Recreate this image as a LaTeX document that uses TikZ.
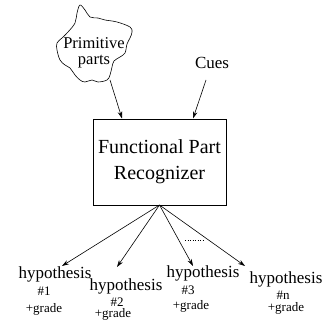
\documentclass[tikz,border=0pt]{standalone}
\usepackage{fontspec}
\setmainfont{Liberation Serif}
\usetikzlibrary{arrows.meta}
\tikzset{
  conn/.style={line width=0.6pt,-{Stealth[length=7pt,width=4.5pt]}},
  big/.style={font=\fontsize{20}{24}\selectfont,align=center,inner sep=0pt},
  mid/.style={font=\fontsize{17}{20}\selectfont,inner sep=0pt,anchor=base},
  sml/.style={font=\fontsize{13}{15}\selectfont,inner sep=0pt,anchor=base},
}
\begin{document}
\begin{tikzpicture}[x=1pt,y=-1pt]
\useasboundingbox (0,0) rectangle (323,320);
% blob
\draw[line width=0.6pt] plot[smooth cycle,tension=0.6] coordinates{
 (80,5) (85,10) (90,17) (98,18) (105,20) (117,22) (130,27) (132,32) (130,38)
 (127,44) (125,53) (120,57) (114,61) (112,67) (110,75) (107,80) (98,82)
 (92,80) (85,82) (80,80) (75,75) (70,68) (65,65) (60,60) (57,50) (57,43)
 (62,38) (68,32) (75,23) (77,13)};
\node[align=center,inner sep=0pt,font=\fontsize{16.5}{15.5}\selectfont] (prim) at (94,53) {Primitive\\parts};
\node[mid] (cues) at (212,69) {Cues};
\draw[line width=0.6pt] (93,119) rectangle (226,205);
\node[big] (fpr) at (159.5,162) {Functional Part\\[2pt]Recognizer};
\coordinate (fan) at (159.5,205);
\coordinate (ps) at (110,80);
\coordinate (cs) at (206,80);
\coordinate (pt) at (122,118.5);
\coordinate (ct) at (193,118.5);
\draw[conn] (ps) -- (pt);
\draw[conn] (cs) -- (ct);
% hypotheses
\coordinate (t1) at (62,266);
\coordinate (t2) at (117,267);
\coordinate (t3) at (193,266);
\coordinate (t4) at (245,266);
\draw[conn] (fan) -- (t1);
\draw[conn] (fan) -- (t2);
\draw[conn] (fan) -- (t3);
\draw[conn] (fan) -- (t4);
\coordinate (d1) at (185,240);
\coordinate (d2) at (203,240);
\draw[line width=0.5pt,dotted] (d1) -- (d2);
\node[mid] (h1) at (55,278) {hypothesis};
\node[sml] (n1) at (44,295) {\#1};
\node[sml] (g1) at (44,312) {+grade};
\node[mid] (h2) at (126,290) {hypothesis};
\node[sml] (n2) at (117,306) {\#2};
\node[sml] (g2) at (113,317.5) {+grade};
\node[mid] (h3) at (203,277) {hypothesis};
\node[sml] (n3) at (188,294) {\#3};
\node[sml] (g3) at (191,309) {+grade};
\node[mid] (h4) at (286,283) {hypothesis};
\node[sml] (n4) at (283,299.5) {\#n};
\node[sml] (g4) at (286,311.5) {+grade};
\end{tikzpicture}
\end{document}
